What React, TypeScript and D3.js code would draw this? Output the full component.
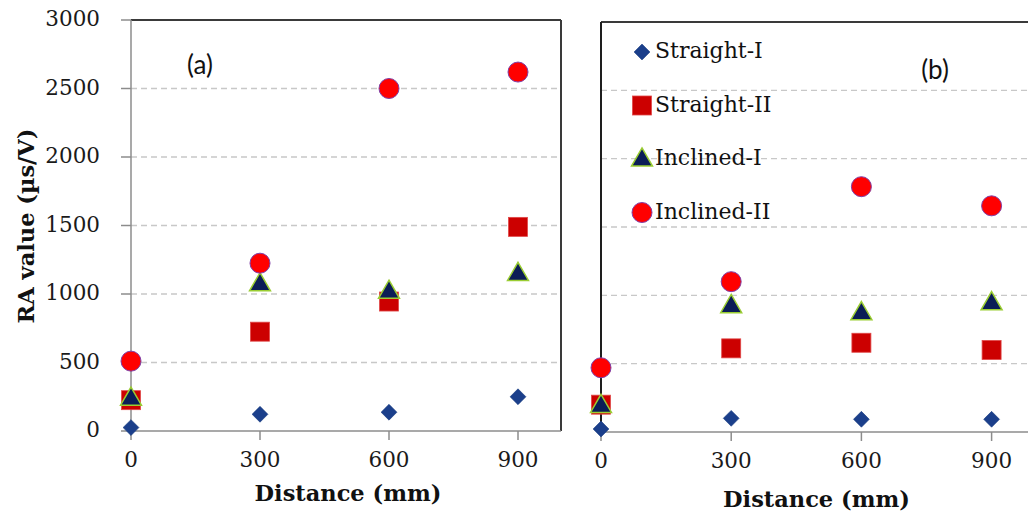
import React from 'react';
import * as d3 from 'd3';

const distances = [0, 300, 600, 900];
const yTicks = [0, 500, 1000, 1500, 2000, 2500, 3000];
const seriesNames = ['Straight-I', 'Straight-II', 'Inclined-I', 'Inclined-II'];

// panel (a)
const aStraightI = [25, 122, 137, 250];
const aStraightII = [225, 725, 945, 1490];
const aInclinedI = [240, 1075, 1020, 1150];
const aInclinedII = [510, 1225, 2500, 2620];

// panel (b)
const bStraightI = [22, 100, 93, 93];
const bStraightII = [200, 612, 653, 600];
const bInclinedI = [195, 925, 873, 946];
const bInclinedII = [470, 1100, 1795, 1655];

const SERIF = '"DejaVu Serif", serif';

const Marker = ({kind, x, y}: {kind: number; x: number; y: number}) => {
    if (kind === 0) {
        const p = d3.symbol().type(d3.symbolDiamond2).size(160)();
        return <path d={p || ''} transform={`translate(${x},${y})`} fill="#1b3f8b" stroke="#173a80" strokeWidth={0.6}/>;
    }
    if (kind === 1) {
        return <rect x={x - 9.5} y={y - 9.5} width={19} height={19} fill="#cc0000" stroke="#e04848" strokeWidth={0.8}/>;
    }
    if (kind === 2) {
        const p = d3.symbol().type(d3.symbolTriangle).size(190)();
        return <path d={p || ''} transform={`translate(${x},${y + 1})`} fill="#0b1d56" stroke="#9acd32" strokeWidth={1.5}/>;
    }
    return <circle cx={x} cy={y} r={10} fill="#ff0000" stroke="#8040a8" strokeWidth={1}/>;
};

const Panel = ({series, xr, yr, showY, label, labelPos, legend}: any) => {
    const x = d3.scaleLinear().domain([0, 1000]).range(xr);
    const y = d3.scaleLinear().domain([0, 3000]).range(yr);
    const x0 = xr[0], x1 = xr[1];
    const yb = y(0), yt = y(3000);
    return (
        <g>
            {yTicks.filter(t => t > 0 && t < 3000).map(t => (
                <line key={t} x1={x0} x2={x1} y1={y(t)} y2={y(t)} stroke="#c8c8c8" strokeWidth={1.3} strokeDasharray="6,4"/>
            ))}
            {/* frame */}
            <line x1={x0} x2={x1} y1={yt} y2={yt} stroke="#3a3a3a" strokeWidth={2}/>
            <line x1={x1} x2={x1} y1={yt} y2={yb} stroke="#3a3a3a" strokeWidth={2}/>
            <line x1={x0} x2={x0} y1={yt} y2={yb} stroke={showY ? '#8c8c8c' : '#1e1e1e'} strokeWidth={showY ? 1.5 : 2}/>
            <line x1={x0} x2={x1} y1={yb} y2={yb} stroke="#8c8c8c" strokeWidth={1.5}/>
            {distances.map(d => (
                <g key={d}>
                    <line x1={x(d)} x2={x(d)} y1={yb} y2={yb + 9} stroke="#8c8c8c" strokeWidth={1.5}/>
                    <text x={x(d)} y={yb + 30} textAnchor="middle" dominantBaseline="middle"
                          fontFamily={SERIF} fontSize={21.5} fill="#1a1a1a">{d}</text>
                </g>
            ))}
            {showY && yTicks.map(t => (
                <g key={t}>
                    <line x1={x0 - 10} x2={x0} y1={y(t)} y2={y(t)} stroke="#8c8c8c" strokeWidth={1.5}/>
                    <text x={x0 - 31} y={y(t)} textAnchor="end" dominantBaseline="middle"
                          fontFamily={SERIF} fontSize={21.5} fill="#1a1a1a">{t}</text>
                </g>
            ))}
            <text x={(x0 + Math.min(x1, 1028)) / 2 + 2} y={labelPos[2]} textAnchor="middle"
                  fontFamily={SERIF} fontWeight="bold" fontSize={22.5} fill="#111">Distance (mm)</text>
            <text x={labelPos[0]} y={labelPos[1]} textAnchor="middle" dominantBaseline="middle"
                  fontFamily='Lato, "Open Sans", sans-serif' fontSize={26} fill="#111">{label}</text>
            {legend && seriesNames.map((n, i) => (
                <g key={n}>
                    <Marker kind={i} x={x0 + 41} y={52 + i * 53.5}/>
                    <text x={x0 + 54} y={52 + i * 53.5} dominantBaseline="middle"
                          fontFamily={SERIF} fontSize={22} fill="#111">{n}</text>
                </g>
            ))}
            {series.map((vals: number[], si: number) => vals.map((v, i) => (
                <Marker key={si + '-' + i} kind={si} x={x(distances[i])} y={y(v)}/>
            )))}
        </g>
    );
};

const App = () => {
    return (
        <svg width={1028} height={512} style={{position: 'absolute', left: 0, top: 0, background: '#fff'}}>
            <rect width={1028} height={512} fill="#fff"/>
            <Panel series={[aStraightI, aStraightII, aInclinedI, aInclinedII]} xr={[131, 561]} yr={[431, 20]}
                   showY={true} label="(a)" labelPos={[200, 67, 501]} legend={false}/>
            <Panel series={[bStraightI, bStraightII, bInclinedI, bInclinedII]} xr={[601, 1035]} yr={[432, 22]}
                   showY={false} label="(b)" labelPos={[935, 72, 507]} legend={true}/>
            <text transform="translate(34,226) rotate(-90)" textAnchor="middle"
                  fontFamily={SERIF} fontWeight="bold" fontSize={22.5} fill="#111">RA value (µs/V)</text>
        </svg>
    );
};

export default App;
